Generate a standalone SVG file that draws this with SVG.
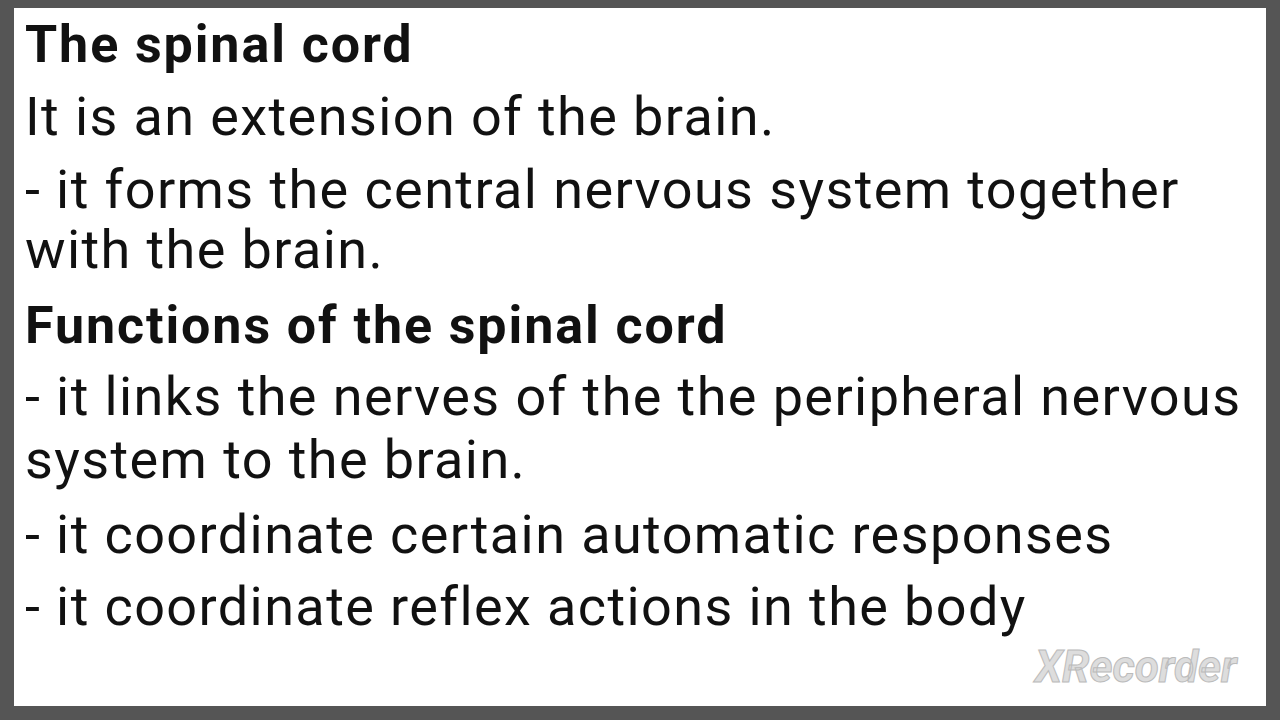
<svg xmlns="http://www.w3.org/2000/svg" width="1280" height="720" viewBox="0 0 1280 720">
<style>
.t{font-family:Roboto,"Liberation Sans",sans-serif;fill:#111}
.h{font-size:52px;font-weight:bold;letter-spacing:1.9px}
.b{font-size:54px;letter-spacing:1.4px}
</style>
<rect width="1280" height="720" fill="#555"/>
<rect x="14" y="8" width="1252" height="698" fill="#fff"/>
<text class="t h" x="25" y="62">The spinal cord</text>
<text class="t b" x="25" y="135">It is an extension of the brain.</text>
<text class="t b" x="25" y="208">- it forms the central nervous system together</text>
<text class="t b" x="25" y="268">with the brain.</text>
<text class="t h" x="25" y="343">Functions of the spinal cord</text>
<text class="t b" x="25" y="415">- it links the nerves of the the peripheral nervous</text>
<text class="t b" x="25" y="478">system to the brain.</text>
<text class="t b" x="25" y="553">- it coordinate certain automatic responses</text>
<text class="t b" x="25" y="625">- it coordinate reflex actions in the body</text>
<text x="1035" y="682" font-family="Roboto,'Liberation Sans',sans-serif" font-size="44" font-weight="bold" font-style="italic" fill="#ddd" stroke="#bbb" stroke-width="1">XRecorder</text>
</svg>
